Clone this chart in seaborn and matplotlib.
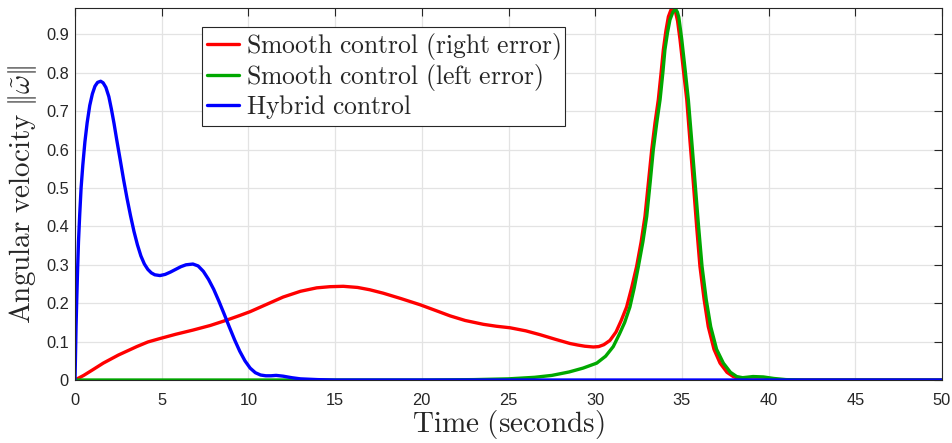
import numpy as np
import pandas as pd
import matplotlib
matplotlib.use("Agg")
import matplotlib.pyplot as plt
import seaborn as sns

# Angular velocity norm over time for the three controllers
t_right = [0, 0.5, 1.0, 1.63, 2.5, 3.56, 4.2, 4.9, 5.8, 6.8, 7.8, 8.75, 9.5, 10.1, 11.0,
           12.0, 13.0, 13.94, 14.7, 15.47, 16.3, 17.0, 17.78, 18.8, 19.9, 20.8, 21.63,
           22.5, 23.55, 24.3, 25.09, 26.0, 26.82, 27.7, 28.55, 29.0, 29.4, 29.89, 30.2,
           30.5, 30.85, 31.2, 31.5, 31.81, 32.1, 32.39, 32.65, 32.87, 33.07, 33.26, 33.45,
           33.64, 33.8, 33.93, 34.08, 34.22, 34.36, 34.43, 34.5, 34.58, 34.65, 34.75,
           34.89, 35.08, 35.28, 35.47, 35.66, 35.85, 36.04, 36.28, 36.52, 36.85, 37.2,
           37.6, 37.96, 38.3, 38.8, 50]
w_right = [0, 0.012, 0.026, 0.044, 0.065, 0.087, 0.099, 0.108, 0.119, 0.13, 0.142, 0.156,
           0.168, 0.178, 0.196, 0.216, 0.231, 0.24, 0.243, 0.244, 0.241, 0.235, 0.226,
           0.212, 0.196, 0.181, 0.167, 0.155, 0.145, 0.14, 0.136, 0.128, 0.118, 0.106,
           0.095, 0.091, 0.088, 0.086, 0.087, 0.092, 0.103, 0.125, 0.155, 0.19, 0.24,
           0.296, 0.36, 0.426, 0.515, 0.6, 0.67, 0.73, 0.8, 0.86, 0.91, 0.946, 0.963,
           0.967, 0.968, 0.964, 0.955, 0.935, 0.887, 0.81, 0.73, 0.62, 0.513, 0.4, 0.296,
           0.21, 0.139, 0.08, 0.044, 0.02, 0.009, 0.003, 0.0, 0.0]

t_left = [0, 20, 23, 25, 26.5, 27.5, 28.5, 29.3, 30.09, 30.6, 31.04, 31.4, 31.7, 32.0,
          32.25, 32.49, 32.75, 32.97, 33.17, 33.35, 33.55, 33.74, 33.9, 34.02, 34.17,
          34.31, 34.48, 34.57, 34.66, 34.74, 34.82, 34.99, 35.18, 35.37, 35.57, 35.76,
          35.96, 36.16, 36.4, 36.66, 37.0, 37.39, 37.8, 38.16, 38.5, 39.1, 39.7, 40.3,
          41, 42, 50]
w_left = [0, 0, 0.001, 0.003, 0.007, 0.012, 0.021, 0.031, 0.044, 0.062, 0.087, 0.12,
          0.15, 0.19, 0.24, 0.296, 0.36, 0.426, 0.515, 0.6, 0.67, 0.73, 0.8, 0.86, 0.905,
          0.938, 0.958, 0.963, 0.964, 0.958, 0.945, 0.887, 0.81, 0.73, 0.62, 0.513, 0.4,
          0.296, 0.21, 0.139, 0.08, 0.044, 0.02, 0.009, 0.006, 0.009, 0.008, 0.004,
          0.001, 0, 0]

t_hybrid = [0, 0.03, 0.06, 0.1, 0.15, 0.2, 0.27, 0.35, 0.45, 0.57, 0.7, 0.85, 1.0, 1.15,
            1.3, 1.48, 1.62, 1.78, 1.95, 2.1, 2.25, 2.4, 2.6, 2.8, 3.0, 3.2, 3.4, 3.6, 3.8,
            4.0, 4.2, 4.4, 4.6, 4.9, 5.2, 5.5, 5.8, 6.1, 6.4, 6.8, 7.1, 7.4, 7.7, 8.0,
            8.3, 8.6, 8.9, 9.2, 9.5, 9.8, 10.1, 10.4, 10.7, 11.0, 11.3, 11.6, 12.0, 12.5,
            13.0, 14.0, 15.0, 50]
w_hybrid = [0, 0.07, 0.14, 0.21, 0.29, 0.36, 0.43, 0.5, 0.56, 0.62, 0.67, 0.715, 0.745,
            0.765, 0.775, 0.778, 0.774, 0.762, 0.738, 0.705, 0.668, 0.627, 0.575, 0.522,
            0.473, 0.428, 0.387, 0.352, 0.323, 0.302, 0.288, 0.279, 0.274, 0.272, 0.275,
            0.281, 0.288, 0.295, 0.3, 0.302, 0.297, 0.283, 0.262, 0.236, 0.205, 0.172,
            0.138, 0.105, 0.075, 0.05, 0.031, 0.019, 0.013, 0.011, 0.011, 0.012, 0.01,
            0.006, 0.003, 0.001, 0, 0]

labels = ["Smooth control (right error)", "Smooth control (left error)", "Hybrid control"]
colors = ["#ff0000", "#00a800", "#0000ff"]

x_ticks = [0, 5, 10, 15, 20, 25, 30, 35, 40, 45, 50]
y_ticks = [0, 0.1, 0.2, 0.3, 0.4, 0.5, 0.6, 0.7, 0.8, 0.9]

frames = []
for name, tt, ww in zip(labels, [t_right, t_left, t_hybrid], [w_right, w_left, w_hybrid]):
    frames.append(pd.DataFrame({"t": tt, "w": ww, "series": name}))
df = pd.concat(frames, ignore_index=True)

sns.set_theme(style="whitegrid")
plt.rcParams["mathtext.fontset"] = "cm"
plt.rcParams["font.family"] = ["Liberation Sans", "DejaVu Sans"]

fig = plt.figure(figsize=(9.52, 4.43), dpi=100)
ax = fig.add_axes([0.0788, 0.1422, 0.9107, 0.8391])

sns.lineplot(data=df, x="t", y="w", hue="series", hue_order=labels,
             palette=dict(zip(labels, colors)), estimator=None, sort=False,
             linewidth=2.4, legend=False, ax=ax)

ax.set_xlim(0, 50)
ax.set_ylim(0, max(w_right))
ax.set_xticks(x_ticks)
ax.set_yticks(y_ticks)
ax.set_xticklabels([f"{v:g}" for v in x_ticks])
ax.set_yticklabels([f"{v:g}" for v in y_ticks])

ax.set_facecolor("white")
ax.grid(True, color="#e3e3e3", linewidth=0.9)
for side in ["left", "right", "top", "bottom"]:
    ax.spines[side].set_visible(True)
    ax.spines[side].set_color("#262626")
    ax.spines[side].set_linewidth(0.8)
ax.tick_params(direction="in", length=6, width=0.8, color="#262626",
               top=True, right=True, labelsize=11.8, labelcolor="#262626")
ax.tick_params(axis="x", pad=9)
ax.tick_params(axis="y", pad=4.5)

ax.set_xlabel(r"$\mathrm{Time\ (seconds)}$", fontsize=21, labelpad=0, color="#262626")
ax.set_ylabel(r"$\mathrm{Angular\ velocity}\ |\!|\tilde{\omega}|\!|$", fontsize=21,
              labelpad=5, color="#262626")

handles = ax.get_lines()[:3]
leg_labels = [r"$\mathrm{Smooth\ control\ (right\ error)}$",
              r"$\mathrm{Smooth\ control\ (left\ error)}$",
              r"$\mathrm{Hybrid\ control}$"]
leg = ax.legend(handles, leg_labels, loc="upper left", bbox_to_anchor=(0.147, 0.9505),
                borderaxespad=0, fontsize=18.5, frameon=True, fancybox=False,
                framealpha=1, edgecolor="#262626", handlelength=1.25,
                handletextpad=0.25, labelspacing=0.0, borderpad=0.18)
leg.get_frame().set_linewidth(0.8)

fig.savefig("out.png", dpi=100)
